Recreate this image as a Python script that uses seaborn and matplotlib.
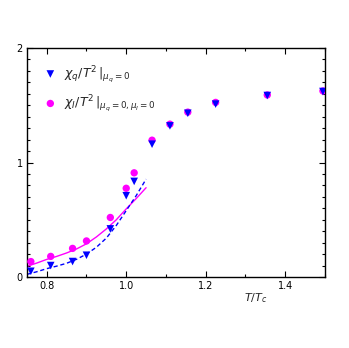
import matplotlib
matplotlib.use("Agg")
import matplotlib.pyplot as plt
import seaborn as sns
import pandas as pd
from matplotlib.ticker import MultipleLocator

# data
T = [0.76, 0.81, 0.865, 0.90, 0.96, 1.00, 1.02, 1.065, 1.11, 1.155, 1.225, 1.355, 1.495]
chi_q = [0.05, 0.10, 0.135, 0.19, 0.42, 0.71, 0.835, 1.16, 1.32, 1.43, 1.51, 1.585, 1.62]
chi_I = [0.135, 0.18, 0.25, 0.315, 0.52, 0.775, 0.91, 1.195, 1.335, 1.44, 1.525, 1.59, 1.625]

curve_T = [0.75, 0.775, 0.80, 0.825, 0.85, 0.875, 0.90, 0.925, 0.95, 0.975, 1.00, 1.025, 1.05]
curve_q = [0.023, 0.046, 0.073, 0.095, 0.12, 0.155, 0.20, 0.26, 0.34, 0.45, 0.58, 0.71, 0.855]
curve_I = [0.093, 0.122, 0.154, 0.18, 0.21, 0.245, 0.29, 0.35, 0.42, 0.50, 0.595, 0.685, 0.78]

lab_q = r'$\chi_q/T^2\,|_{\mu_q=0}$'
lab_I = r'$\chi_I/T^2\,|_{\mu_q=0,\mu_I=0}$'

sns.set_style("ticks")
plt.rcParams['font.family'] = ['DejaVu Sans']

fig = plt.figure(figsize=(3.49, 3.48), dpi=100)
ax = fig.add_axes([0.077, 0.204, 0.854, 0.658])

pts = pd.DataFrame({"T": T, "q": chi_q, "I": chi_I})
cur = pd.DataFrame({"T": curve_T, "q": curve_q, "I": curve_I})

sns.lineplot(data=cur, x="T", y="I", ax=ax, color="#ff00ff", lw=1.0, sort=True)
sns.lineplot(data=cur, x="T", y="q", ax=ax, color="#0000ff", lw=1.0, linestyle=(0, (3, 2)), sort=True)
sns.scatterplot(data=pts, x="T", y="I", ax=ax, color="#ff00ff", marker="o", s=28,
                edgecolor="none", label=lab_I, zorder=3)
sns.scatterplot(data=pts, x="T", y="q", ax=ax, color="#0000ff", marker="v", s=30,
                edgecolor="none", label=lab_q, zorder=4)

ax.set_xlim(0.75, 1.5)
ax.set_ylim(0, 2)
ax.xaxis.set_minor_locator(MultipleLocator(0.1))
ax.yaxis.set_minor_locator(MultipleLocator(0.1))
ax.set_xticks([0.8, 1.0, 1.2, 1.4])
ax.set_xticklabels(["0.8", "1.0", "1.2", "1.4"])
ax.set_yticks([0, 1, 2])
ax.set_yticklabels(["0", "1", "2"])
ax.tick_params(which="both", direction="in", top=True, right=True, labelsize=7, width=0.8,
               color="black", labelcolor="black")
ax.tick_params(which="major", length=4, pad=3)
ax.tick_params(which="minor", length=2.5)
for sp in ax.spines.values():
    sp.set_linewidth(1.0)
    sp.set_color("black")
ax.set_xlabel("")
ax.set_ylabel("")
ax.text(0.73, -0.09, r'$T/T_c$', transform=ax.transAxes, fontsize=8, ha="left", va="center")

h, l = ax.get_legend_handles_labels()
ax.legend(h[::-1], l[::-1], loc="upper left", bbox_to_anchor=(0.02, 0.98), frameon=False,
          fontsize=9, handletextpad=0.6, labelspacing=0.7, handlelength=1.0)

fig.savefig("out.png", dpi=100)
